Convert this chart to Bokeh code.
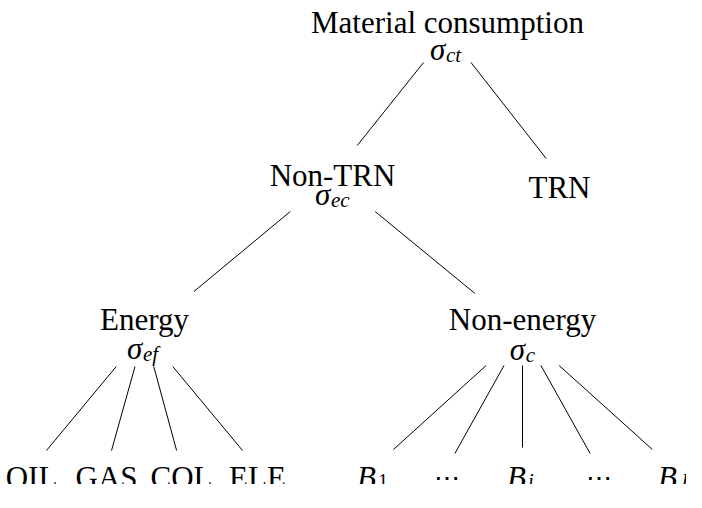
from bokeh.plotting import figure
from bokeh.models import Range1d, ColumnDataSource
from bokeh.core.properties import value
from bokeh.embed import file_html
from bokeh.resources import INLINE

# ---- data: tree structure and labels ----
node_main = ["Material consumption", "Non-TRN", "TRN", "Energy", "Non-energy",
             "OIL", "GAS", "COL", "ELE",
             "B", "\u22ef", "B", "\u22ef", "B"]
node_sub = ["", "", "", "", "", "", "", "", "", "1", "", "j", "", "J"]
node_parent = [-1, 0, 0, 1, 1, 3, 3, 3, 3, 4, 4, 4, 4, 4]
sigma_sub = ["ct", "ec", "", "ef", "c", "", "", "", "", "", "", "", "", ""]

# ---- layout (page pixel coordinates) ----
node_x = [455, 340, 567, 152, 530, 39, 114, 189, 265, 380, 454, 530, 606, 681]
node_cy = [40, 184, 183, 340, 340, 476, 476, 476, 476, 476, 476, 476, 476, 476]
node_top = [5, 153, 166, 299, 301, 458, 458, 458, 458, 457, 461, 455, 461, 457]
node_bot = [70, 219, 200, 374, 373, 490, 490, 490, 490, 490, 490, 490, 490, 490]
label_base = [30, 183, 195, 327, 327, 485, 485, 485, 485, 485, 485, 485, 485, 485]
sigma_base = [57, 202, 0, 356, 357, 0, 0, 0, 0, 0, 0, 0, 0, 0]

FONT = value("Liberation Serif")
MAIN_SIZE = "31px"
SUB_SIZE = "21px"
LEAF_SUB_SIZE = "20px"

W, H = 686, 484
p = figure(width=W, height=H, output_backend="svg", toolbar_location=None, title=None,
           x_axis_location=None, y_axis_location=None,
           x_range=Range1d(8, 8 + W), y_range=Range1d(8 + H, 8), min_border=0)
p.grid.visible = False
p.outline_line_color = None
p.background_fill_color = "white"
p.border_fill_color = "white"

# ---- edges: from parent center towards child center, clipped to node boxes ----
x0s, y0s, x1s, y1s = [], [], [], []
for i, par in enumerate(node_parent):
    if par < 0:
        continue
    px, py = node_x[par], node_cy[par]
    cx, cy = node_x[i], node_cy[i]
    ya, yb = node_bot[par], node_top[i]
    xa = px + (cx - px) * (ya - py) / (cy - py)
    xb = px + (cx - px) * (yb - py) / (cy - py)
    x0s.append(xa); y0s.append(ya); x1s.append(xb); y1s.append(yb)
p.segment(x0=x0s, y0=y0s, x1=x1s, y1=y1s, line_color="black", line_width=1)

# ---- plain labels ----
plain = [i for i in range(len(node_main)) if node_sub[i] == "" and node_main[i] != "\u22ef"]
p.text(x=[node_x[i] for i in plain], y=[label_base[i] for i in plain],
       text=[node_main[i] for i in plain], text_font=FONT, text_font_size=MAIN_SIZE,
       text_align="center", text_baseline="alphabetic", text_color="black")

# ---- dots ----
dots = [i for i in range(len(node_main)) if node_main[i] == "\u22ef"]
p.text(x=[node_x[i] for i in dots], y=[label_base[i] for i in dots],
       text=[node_main[i] for i in dots], text_font=value("DejaVu Serif"),
       text_font_size="26px", text_align="center", text_baseline="alphabetic",
       text_color="black")

# ---- math leaves B_k ----
bl = [i for i in range(len(node_main)) if node_sub[i] != ""]
B_W = 20
bx = [node_x[i] - (B_W + 1 + 10 * len(node_sub[i])) / 2 for i in bl]
p.text(x=bx, y=[label_base[i] for i in bl], text=[node_main[i] for i in bl],
       text_font=FONT, text_font_size=MAIN_SIZE, text_font_style="italic",
       text_align="left", text_baseline="alphabetic", text_color="black")
sub_src = ColumnDataSource(dict(
    x=[v + B_W + 1 for v in bx],
    y=[label_base[i] + 3 for i in bl],
    t=[node_sub[i] for i in bl],
    st=["normal" if node_sub[i].isdigit() else "italic" for i in bl]))
p.text(x="x", y="y", text="t", source=sub_src, text_font=FONT,
       text_font_size=LEAF_SUB_SIZE, text_font_style="st",
       text_align="left", text_baseline="alphabetic", text_color="black")

# ---- sigma labels ----
sg = [i for i in range(len(node_main)) if sigma_sub[i] != ""]
S_W = 15
sx = [node_x[i] - (S_W + 1 + 9.5 * len(sigma_sub[i])) / 2 for i in sg]
p.text(x=sx, y=[sigma_base[i] for i in sg], text=["\u03c3"] * len(sg),
       text_font=FONT, text_font_size=MAIN_SIZE, text_font_style="italic",
       text_align="left", text_baseline="alphabetic", text_color="black")
p.text(x=[v + S_W + 1 for v in sx], y=[sigma_base[i] + 5 for i in sg],
       text=[sigma_sub[i] for i in sg], text_font=FONT, text_font_size=SUB_SIZE,
       text_font_style="italic",
       text_align="left", text_baseline="alphabetic", text_color="black")

open("out.html", "w").write(file_html(p, INLINE))
